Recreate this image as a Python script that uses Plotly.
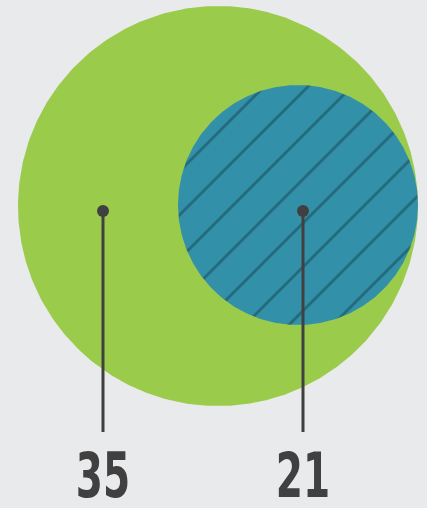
import numpy as np
import plotly.graph_objects as go

# Data
categories = ["Total", "Subset"]
values = [35, 21]
tick_labels = ["35", "21"]

# Layout / style (pixel-based coordinate system)
W, H = 427, 508
BG = "#E9EAEC"
GREEN = "#9BCB4A"
BLUE = "#3291A9"
HATCH = "#24687B"
DARK = "#404040"
scale = 200 / 35.0
circle_centers = [(218, 206), (298, 205)]
dot_x = [103, 303]
dot_y = 211
line_bottom = 432
label_y = 482

fig = go.Figure()

theta = np.linspace(0, 2 * np.pi, 400)
for i, (v, (cx, cy)) in enumerate(zip(values, circle_centers)):
    r = v * scale
    xs = cx + r * np.cos(theta)
    ys = cy + r * np.sin(theta)
    if i == 0:
        fig.add_trace(go.Scatter(x=xs, y=ys, mode="lines", fill="toself",
                                 fillcolor=GREEN, line=dict(width=0, color=GREEN),
                                 hoverinfo="skip", showlegend=False))
    else:
        fig.add_trace(go.Scatter(x=xs, y=ys, mode="lines", fill="toself",
                                 fillcolor=BLUE, line=dict(width=0, color=BLUE),
                                 fillpattern=dict(shape="/", fgcolor=HATCH, bgcolor=BLUE,
                                                  size=31, solidity=0.09, fillmode="replace"),
                                 hoverinfo="skip", showlegend=False))

for x in dot_x:
    fig.add_trace(go.Scatter(x=[x, x], y=[dot_y, line_bottom], mode="lines",
                             line=dict(color=DARK, width=3), hoverinfo="skip", showlegend=False))

fig.add_trace(go.Scatter(x=dot_x, y=[dot_y] * len(dot_x), mode="markers",
                         marker=dict(color=DARK, size=12), hoverinfo="skip", showlegend=False))

fig.add_trace(go.Scatter(x=dot_x, y=[label_y] * len(dot_x), mode="text",
                         text=tick_labels, textposition="middle center",
                         textfont=dict(family="DejaVu Sans, sans-serif",
                                       size=62, color=DARK, weight="bold"),
                         hoverinfo="skip", showlegend=False))

fig.update_layout(
    width=W, height=H,
    margin=dict(l=0, r=0, t=0, b=0),
    paper_bgcolor=BG, plot_bgcolor=BG,
    xaxis=dict(range=[0, W], visible=False, fixedrange=True),
    yaxis=dict(range=[H, 0], visible=False, fixedrange=True),
    showlegend=False,
)

post = (
    "document.body.style.margin='0';"
    "document.body.style.background='" + BG + "';"
    "document.querySelectorAll('.textpoint text').forEach(function(t){"
    "t.style.transformBox='fill-box';t.style.transformOrigin='center';"
    "t.style.transform='scaleX(0.63)';});"
)
fig.write_html("out.html", config={"displayModeBar": False}, post_script=post)
